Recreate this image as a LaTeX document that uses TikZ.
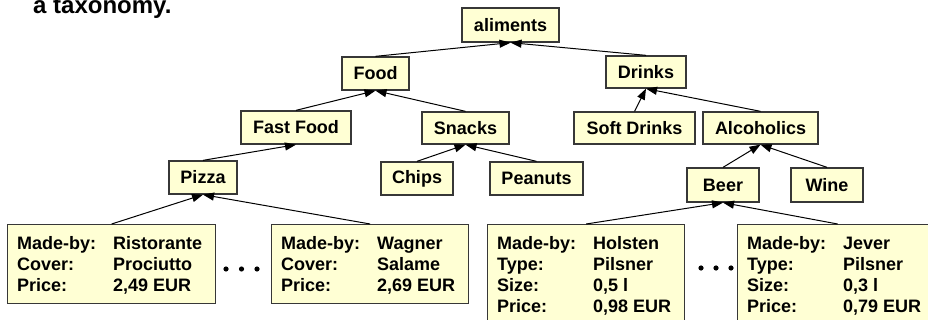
\documentclass[tikz,border=0pt]{standalone}
\usepackage{fontspec}
\setmainfont{Liberation Sans}
\usetikzlibrary{arrows.meta}
\definecolor{boxfill}{RGB}{255,255,212}
\definecolor{boxline}{RGB}{55,55,55}
\tikzset{
  lbl/.style={font=\fontsize{18}{21}\selectfont\bfseries},
  cls/.style={lbl, draw=boxline, fill=boxfill, line width=1.3pt, inner sep=0pt},
  inst/.style={draw=boxline, fill=boxfill, line width=1.3pt, inner sep=0pt, anchor=north west},
  insttext/.style={lbl, inner sep=0pt, anchor=base west},
  arr/.style={draw=black, line width=1pt, -{Triangle[length=11pt,width=8pt]}},
  dot/.style={fill=black}
}
\begin{document}
\begin{tikzpicture}[x=1pt,y=-1pt]
\useasboundingbox (0,0) rectangle (928,320);

% title
\node[font=\fontsize{24}{28}\selectfont\bfseries, inner sep=0pt, anchor=base west] (title) at (33,14) {a taxonomy.};

% class nodes
\node[cls, minimum width=97pt, minimum height=34pt] (aliments) at (510.5,25) {aliments};
\node[cls, minimum width=67pt, minimum height=33pt] (food) at (375.5,73.5) {Food};
\node[cls, minimum width=80pt, minimum height=32pt] (drinks) at (646,72) {Drinks};
\node[cls, minimum width=110pt, minimum height=33pt] (fastfood) at (296,127.5) {Fast Food};
\node[cls, minimum width=87pt, minimum height=32pt] (snacks) at (465.5,128) {Snacks};
\node[cls, minimum width=121pt, minimum height=32pt] (softdrinks) at (634.5,128) {Soft Drinks};
\node[cls, minimum width=115pt, minimum height=32pt] (alcoholics) at (760.5,128) {Alcoholics};
\node[cls, minimum width=68pt, minimum height=33pt] (pizza) at (203,177.5) {Pizza};
\node[cls, minimum width=72pt, minimum height=33pt] (chips) at (417,178.5) {Chips};
\node[cls, minimum width=93pt, minimum height=33pt] (peanuts) at (536.5,178.5) {Peanuts};
\node[cls, minimum width=72pt, minimum height=34pt] (beer) at (723,185) {Beer};
\node[cls, minimum width=72pt, minimum height=34pt] (wine) at (827,185) {Wine};

% instance boxes
\node[inst, minimum width=208pt, minimum height=79pt] (ristorante) at (7,224) {};
\node[insttext] (ristorantetext) at (17,249) {\begin{tabular}[t]{@{}p{96pt}@{}l@{}}Made-by: & Ristorante\\ Cover: & Prociutto\\ Price: & 2,49 EUR\end{tabular}};

\node[inst, minimum width=197pt, minimum height=79pt] (wagner) at (271,224) {};
\node[insttext] (wagnertext) at (281,249) {\begin{tabular}[t]{@{}p{96pt}@{}l@{}}Made-by: & Wagner\\ Cover: & Salame\\ Price: & 2,69 EUR\end{tabular}};

\node[inst, minimum width=197pt, minimum height=100pt] (holsten) at (487,224) {};
\node[insttext] (holstentext) at (497,249) {\begin{tabular}[t]{@{}p{96pt}@{}l@{}}Made-by: & Holsten\\ Type: & Pilsner\\ Size: & 0,5 l\\ Price: & 0,98 EUR\end{tabular}};

\node[inst, minimum width=200pt, minimum height=100pt] (jever) at (737,224) {};
\node[insttext] (jevertext) at (747,249) {\begin{tabular}[t]{@{}p{96pt}@{}l@{}}Made-by: & Jever\\ Type: & Pilsner\\ Size: & 0,3 l\\ Price: & 0,79 EUR\end{tabular}};

% ellipsis dots
\fill[dot] (226,269) circle (2.6) (241.5,269) circle (2.6) (257,269) circle (2.6);
\fill[dot] (701,268) circle (2.6) (716,268) circle (2.6) (731,268) circle (2.6);

% connectors
\draw[arr] (food.north) -- (aliments.south);
\draw[arr] (drinks.north) -- (aliments.south);
\draw[arr] (fastfood.north) -- (food.south);
\draw[arr] (snacks.north) -- (food.south);
\draw[arr] (softdrinks.north) -- (drinks.south);
\draw[arr] (alcoholics.north) -- (drinks.south);
\draw[arr] (pizza.north) -- (fastfood.south);
\draw[arr] (chips.north) -- (snacks.south);
\draw[arr] (peanuts.north) -- (snacks.south);
\draw[arr] (beer.north) -- (alcoholics.south);
\draw[arr] (wine.north) -- (alcoholics.south);
\draw[arr] (ristorante.north) -- (pizza.south);
\draw[arr] (wagner.north) -- (pizza.south);
\draw[arr] (holsten.north) -- (beer.south);
\draw[arr] (jever.north) -- (beer.south);
\end{tikzpicture}
\end{document}
